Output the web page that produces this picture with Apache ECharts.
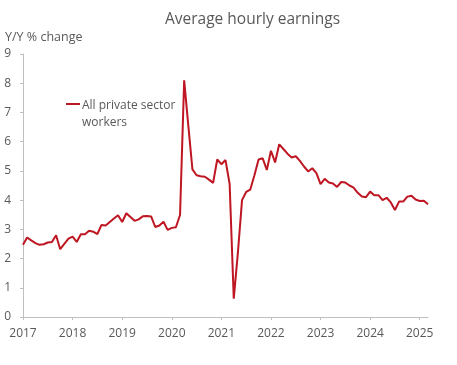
<!DOCTYPE html>
<html>
<head>
<meta charset="utf-8">
<script src="https://cdn.jsdelivr.net/npm/echarts@6/dist/echarts.min.js"></script>
<style>html,body{margin:0;padding:0;background:#fff}#c{width:457px;height:365px}</style>
</head>
<body>
<div id="c"></div>
<script>
// Monthly Y/Y % change, Jan 2017 .. Mar 2025
var startYear = 2017;
var years = [2017, 2018, 2019, 2020, 2021, 2022, 2023, 2024, 2025];
var yTicks = [0, 1, 2, 3, 4, 5, 6, 7, 8, 9];
var seriesName = 'All private sector workers';
var values = [
  2.47, 2.72, 2.62, 2.53, 2.47, 2.49, 2.55, 2.57, 2.80, 2.32, 2.50, 2.68,
  2.75, 2.57, 2.83, 2.83, 2.95, 2.92, 2.84, 3.15, 3.13, 3.25, 3.37, 3.48,
  3.25, 3.55, 3.42, 3.29, 3.34, 3.45, 3.46, 3.44, 3.08, 3.13, 3.26, 2.98,
  3.05, 3.07, 3.49, 8.10, 6.55, 5.05, 4.85, 4.82, 4.80, 4.70, 4.59, 5.39,
  5.23, 5.37, 4.55, 0.63, 2.20, 4.00, 4.28, 4.36, 4.85, 5.39, 5.43, 5.03,
  5.69, 5.29, 5.91, 5.75, 5.59, 5.46, 5.50, 5.34, 5.15, 4.98, 5.09, 4.92,
  4.55, 4.73, 4.60, 4.57, 4.45, 4.62, 4.60, 4.50, 4.43, 4.25, 4.12, 4.10,
  4.29, 4.17, 4.17, 4.00, 4.08, 3.92, 3.66, 3.95, 3.95, 4.12, 4.15, 4.02,
  3.97, 3.98, 3.86
];

var data = values.map(function (v, i) { return [startYear + i / 12, v]; });
var lastX = startYear + (values.length - 1) / 12;

var chart = echarts.init(document.getElementById('c'), null, { renderer: 'canvas' });
var txt = '#595959';
var axisCol = '#bfbfbf';
var font = 'Open Sans';
var red = '#BE1622';
chart.setOption({
  animation: false,
  backgroundColor: '#fff',
  title: {
    text: 'Average hourly earnings',
    left: 160, top: 7,
    textStyle: { color: txt, fontSize: 15.5, fontWeight: 'normal', fontFamily: font }
  },
  grid: { left: 23, right: 29, top: 54, bottom: 48, containLabel: false },
  xAxis: {
    type: 'value',
    min: startYear,
    max: lastX,
    interval: 1,
    splitLine: { show: false },
    axisLine: { show: true, lineStyle: { color: axisCol, width: 1 } },
    axisTick: { show: true, length: 3, inside: false, lineStyle: { color: axisCol }, customValues: years },
    axisLabel: { color: txt, fontSize: 12, fontFamily: font, margin: 11, customValues: years,
      formatter: function (v) { return String(Math.round(v)); } }
  },
  yAxis: {
    type: 'value',
    min: 0, max: 9, interval: 1,
    name: 'Y/Y % change',
    nameLocation: 'end',
    nameGap: 10,
    nameTextStyle: { color: txt, fontSize: 12.5, fontFamily: font, align: 'left', padding: [0, 0, 0, -18] },
    splitLine: { show: false },
    axisLine: { show: true, lineStyle: { color: axisCol, width: 1 } },
    axisTick: { show: true, length: 3, inside: false, lineStyle: { color: axisCol } },
    axisLabel: { color: txt, fontSize: 12, fontFamily: font, margin: 12,
      customValues: yTicks }
  },
  series: [{
    name: seriesName,
    type: 'line',
    data: data,
    showSymbol: false,
    symbol: 'none',
    lineStyle: { color: red, width: 2 },
    itemStyle: { color: red }
  }],
  graphic: [
    { type: 'line', shape: { x1: 66, y1: 104, x2: 80, y2: 104 }, style: { stroke: red, lineWidth: 2 } },
    { type: 'text', left: 82, top: 97, style: { text: 'All private sector\nworkers', fill: txt, fontSize: 12, fontFamily: font, lineHeight: 17 } }
  ]
});
</script>
</body>
</html>
